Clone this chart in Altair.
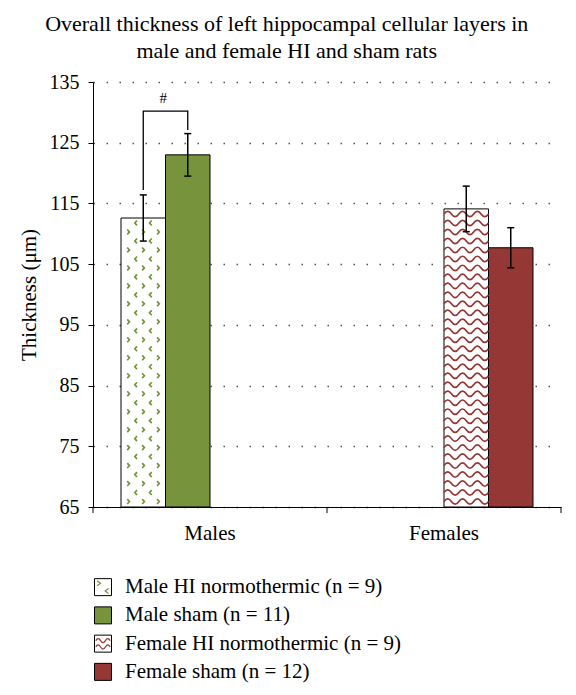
import altair as alt
import pandas as pd
import numpy as np

FONT = "Liberation Serif"

groups = ["Males", "Females"]
series = ["Male HI normothermic", "Male sham", "Female HI normothermic", "Female sham"]
legend_labels = ["Male HI normothermic (n = 9)", "Male sham (n = 11)",
                 "Female HI normothermic (n = 9)", "Female sham (n = 12)"]
bar_group = ["Males", "Males", "Females", "Females"]
means = [112.6, 123.0, 114.1, 107.7]
sems = [3.8, 3.5, 3.75, 3.3]
y_ticks = [65, 75, 85, 95, 105, 115, 125, 135]
x_boundaries = [0, 1, 2]  # category boundaries where the x-axis ticks sit

# significance bracket (Male HI vs Male sham)
bracket_series = ["Male HI normothermic", "Male HI normothermic", "Male sham", "Male sham"]
bracket_y = [117.2, 130.2, 130.2, 127.1]
hash_y = 132.4

# styles
fills = ["#ffffff", "#77933C", "#ffffff", "#953735"]
pattern_colors = ["#77933C", "#77933C", "#953735", "#953735"]
patterns = ["chev", None, "wave", None]

# ---- pattern glyph paths (unit square [-1, 1]) ----
def chev(cx, cy, d, hw, hh):
    if d > 0:
        return f"M{cx-hw:.3f},{cy-hh:.3f}L{cx+hw:.3f},{cy:.3f}L{cx-hw:.3f},{cy+hh:.3f}"
    return f"M{cx+hw:.3f},{cy-hh:.3f}L{cx-hw:.3f},{cy:.3f}L{cx+hw:.3f},{cy+hh:.3f}"

def wave(x0, x1, cy, nseg, amp):
    w = (x1 - x0) / nseg
    p = f"M{x0:.3f},{cy:.3f}"
    for i in range(nseg):
        a = -amp if i % 2 == 0 else amp
        p += f"Q{x0 + w*(i+0.5):.3f},{cy + a:.3f} {x0 + w*(i+1):.3f},{cy:.3f}"
    return p

pathA = "".join(chev(c, 0, 1, 0.05, 0.11) for c in [-0.67, 0.0, 0.67])
pathB = "".join(chev(c, 0, -1, 0.05, 0.11) for c in [-0.33, 0.33])
pathW = wave(-1, 1, 0, 6, 0.24)
pathLM = chev(-0.5, -0.45, 1, 0.2, 0.3) + chev(0.45, 0.45, -1, 0.2, 0.3)
pathLF = wave(-0.85, 0.85, -0.35, 3, 0.5) + wave(-0.85, 0.85, 0.4, 3, 0.5)

shape_scale = alt.Scale(domain=["chevA", "chevB", "wave", "legM", "legF"],
                        range=[pathA, pathB, pathW, pathLM, pathLF])
fill_scale = alt.Scale(domain=series, range=fills)
stroke_scale = alt.Scale(domain=series, range=pattern_colors)

# ---- data tables ----
bars_df = pd.DataFrame({"group": bar_group, "series": series, "mean": means, "sem": sems})

pat_rows = []
for g, s, v, p in zip(bar_group, series, means, patterns):
    if p is None:
        continue
    ys = np.arange(65.9, v - 0.55, 1.48)
    for i, yv in enumerate(ys):
        key = "wave" if p == "wave" else ("chevA" if i % 2 == 0 else "chevB")
        pat_rows.append({"group": g, "series": s, "y": float(yv), "pkey": key})
pat_df = pd.DataFrame(pat_rows)

bracket_df = pd.DataFrame({"group": ["Males"] * 4, "series": bracket_series,
                           "y": bracket_y, "order": [0, 1, 2, 3]})
hash_df = pd.DataFrame({"group": ["Males"], "series": ["Male HI normothermic"],
                        "y": [hash_y], "t": ["#"]})
tick_df = pd.DataFrame({"t": x_boundaries})

W, H = 468, 425
P_IN, P_OUT = 0.2393, 0.1197
BAND = W / 2 * (1 - P_IN) / 4  # width of one bar in px
BAR_SIZE = BAND * BAND

x_scale = alt.Scale(domain=groups, paddingInner=P_IN, paddingOuter=P_OUT)
xo_scale = alt.Scale(domain=series, paddingInner=0, paddingOuter=0)
y_scale = alt.Scale(domain=[65, 135], nice=False, zero=False)

x_axis = alt.Axis(title=None, ticks=False, labelAngle=0, labelFont=FONT,
                  labelFontSize=21, labelColor="black", labelPadding=15,
                  domainColor="black", grid=False)
y_axis = alt.Axis(title="Thickness (μm)", values=y_ticks, labelFont=FONT, labelFontSize=20,
                  labelColor="black", labelPadding=9, tickSize=5, tickColor="black",
                  domainColor="black", titleFont=FONT, titleFontSize=21,
                  titleFontWeight="normal", titleColor="black", titlePadding=10,
                  grid=True, gridDash=[1.5, 11.5], gridColor="#555555", gridWidth=1.3)

bars = alt.Chart(bars_df).mark_bar(stroke="black", strokeWidth=1).encode(
    x=alt.X("group:N", scale=x_scale, axis=x_axis),
    xOffset=alt.XOffset("series:N", scale=xo_scale),
    y=alt.Y("mean:Q", scale=y_scale, axis=y_axis),
    y2=alt.datum(65),
    fill=alt.Fill("series:N", scale=fill_scale, legend=None),
)

pattern = alt.Chart(pat_df).mark_point(filled=False, size=BAR_SIZE, strokeWidth=1.7, opacity=1).encode(
    x=alt.X("group:N", scale=x_scale),
    xOffset=alt.XOffset("series:N", scale=xo_scale),
    y=alt.Y("y:Q", scale=y_scale),
    shape=alt.Shape("pkey:N", scale=shape_scale, legend=None),
    stroke=alt.Stroke("series:N", scale=stroke_scale, legend=None),
)

err_base = alt.Chart(bars_df).transform_calculate(
    lo="datum.mean - datum.sem", hi="datum.mean + datum.sem"
)
err_rule = err_base.mark_rule(color="black", strokeWidth=1.5).encode(
    x=alt.X("group:N", scale=x_scale),
    xOffset=alt.XOffset("series:N", scale=xo_scale),
    y=alt.Y("lo:Q", scale=y_scale),
    y2="hi:Q",
)
err_cap_hi = err_base.mark_tick(color="black", orient="horizontal", size=7, thickness=1.5, opacity=1).encode(
    x=alt.X("group:N", scale=x_scale),
    xOffset=alt.XOffset("series:N", scale=xo_scale),
    y=alt.Y("hi:Q", scale=y_scale),
)
err_cap_lo = err_base.mark_tick(color="black", orient="horizontal", size=7, thickness=1.5, opacity=1).encode(
    x=alt.X("group:N", scale=x_scale),
    xOffset=alt.XOffset("series:N", scale=xo_scale),
    y=alt.Y("lo:Q", scale=y_scale),
)

bracket = alt.Chart(bracket_df).mark_line(color="black", strokeWidth=1.3).encode(
    x=alt.X("group:N", scale=x_scale),
    xOffset=alt.XOffset("series:N", scale=xo_scale),
    y=alt.Y("y:Q", scale=y_scale),
    order="order:Q",
)

hash_text = alt.Chart(hash_df).mark_text(font=FONT, fontSize=15, dx=20, baseline="middle", color="black").encode(
    x=alt.X("group:N", scale=x_scale),
    xOffset=alt.XOffset("series:N", scale=xo_scale),
    y=alt.Y("y:Q", scale=y_scale),
    text="t:N",
)

inner = alt.layer(bars, pattern, err_rule, err_cap_hi, err_cap_lo, bracket, hash_text)

x_ticks = alt.Chart(tick_df).mark_rule(color="black", strokeWidth=1).encode(
    x=alt.X("t:Q", scale=alt.Scale(domain=[0, 2], nice=False, zero=False), axis=None),
    y=alt.value(H),
    y2=alt.value(H + 6),
)

main = alt.layer(inner, x_ticks).resolve_scale(x="independent").properties(width=W, height=H)

# ---- legend panel ----
leg_df = pd.DataFrame({"series": series, "label": legend_labels})
leg_pat_df = pd.DataFrame({"series": [s for s, p in zip(series, patterns) if p is not None],
                           "pkey": ["legM" if p == "chev" else "legF" for p in patterns if p is not None]})
leg_y = alt.Y("series:N", scale=alt.Scale(type="point", domain=series, padding=0.5), axis=None)
SQ_X = 10
leg_sq = alt.Chart(leg_df).mark_point(shape="square", filled=True, size=289, stroke="black",
                                      strokeWidth=1, opacity=1).encode(
    x=alt.value(SQ_X), y=leg_y,
    fill=alt.Fill("series:N", scale=fill_scale, legend=None),
)
leg_pat = alt.Chart(leg_pat_df).mark_point(filled=False, size=289, strokeWidth=1.2, opacity=1).encode(
    x=alt.value(SQ_X), y=leg_y,
    shape=alt.Shape("pkey:N", scale=shape_scale, legend=None),
    stroke=alt.Stroke("series:N", scale=stroke_scale, legend=None),
)
leg_txt = alt.Chart(leg_df).mark_text(align="left", baseline="middle", font=FONT, fontSize=21,
                                      color="black").encode(
    x=alt.value(SQ_X + 22), y=leg_y, text="label:N",
)
legend = alt.layer(leg_sq, leg_pat, leg_txt).properties(width=W, height=113)

chart = alt.vconcat(main, legend, spacing=30).resolve_scale(
    x="independent", y="independent"
).properties(
    title=alt.TitleParams(
        ["Overall thickness of left hippocampal cellular layers in", "male and female HI and sham rats"],
        font=FONT, fontSize=22, fontWeight="normal", color="black", anchor="middle",
        lineHeight=27, offset=9, frame="bounds", dx=-3,
    ),
    padding={"left": 10, "top": 5, "right": 5, "bottom": 5},
).configure_view(stroke=None)

chart.save("out.html", embed_options={"renderer": "svg", "actions": False})
